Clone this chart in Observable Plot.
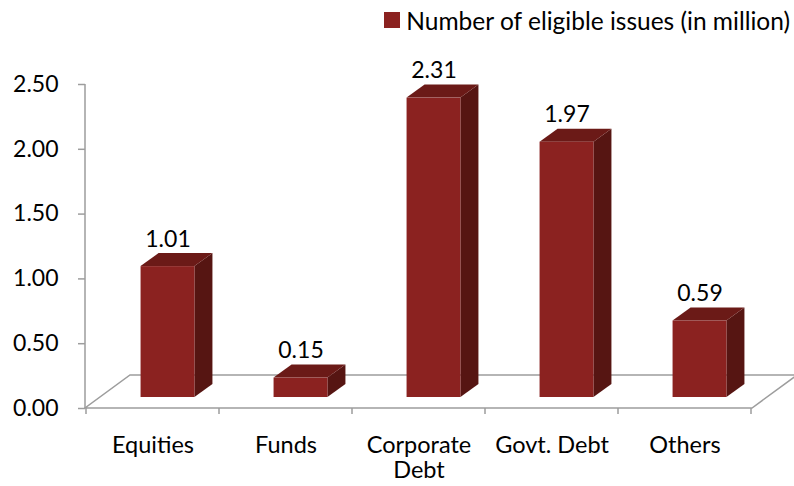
<!DOCTYPE html>
<html>
<head>
<meta charset="utf-8">
<script src="https://cdn.jsdelivr.net/npm/d3@7"></script>
<script src="https://cdn.jsdelivr.net/npm/@observablehq/plot@0.6"></script>
<style>
  html, body { margin: 0; padding: 0; background: #fff; }
  #wrap { width: 794px; height: 486px; overflow: hidden; font-family: Lato, "Open Sans", sans-serif; }
  #legend { height: 40px; display: flex; justify-content: flex-end; align-items: center; padding-right: 4px; box-sizing: border-box; font-size: 24.5px; color: #000; }
  #legend .sw { width: 16px; height: 16px; background: #8B2220; margin-right: 6px; }
</style>
</head>
<body>
<div id="wrap">
  <div id="legend"><span class="sw"></span><span id="legend-text"></span></div>
  <div id="chart"></div>
</div>
<script>
// ---- data ----
const categories = ["Equities", "Funds", "Corporate Debt", "Govt. Debt", "Others"];
const tickLabels = ["Equities", "Funds", "Corporate\nDebt", "Govt. Debt", "Others"];
const values = [1.01, 0.15, 2.31, 1.97, 0.59];
const yTicks = [0, 0.5, 1, 1.5, 2, 2.5];
const seriesName = "Number of eligible issues (in million)";

// ---- style ----
const frontColor = "#8B2220", topColor = "#6B1A17", sideColor = "#561512";
const axisColor = "#9d9d9d";
const floorDepth = [45, -33];
const barShift = [15, -11];
const barDepth = [18, -13];
const barFrac = 0.405;

document.getElementById("legend-text").textContent = seriesName;

const data = categories.map((c, i) => ({category: c, label: tickLabels[i], value: values[i]}));

const floorMark = Plot.ruleY([0], {
  render(index, scales, vals, dimensions) {
    const g = d3.create("svg:g").attr("fill", "none").attr("stroke", axisColor).attr("stroke-width", 1.5);
    const x0 = dimensions.marginLeft, x1 = dimensions.width - dimensions.marginRight;
    const y0 = scales.y(0);
    const [fx, fy] = floorDepth;
    g.append("path").attr("d", `M${x0},${y0}L${x1},${y0}L${x1 + fx},${y0 + fy}L${x0 + fx},${y0 + fy}Z`);
    g.append("line").attr("x1", x0).attr("x2", x0).attr("y1", y0).attr("y2", scales.y(yTicks[yTicks.length - 1]));
    const bw = scales.x.bandwidth();
    const edges = categories.map(c => scales.x(c)).concat([scales.x(categories[categories.length - 1]) + bw]);
    for (const e of edges) g.append("line").attr("x1", e).attr("x2", e).attr("y1", y0).attr("y2", y0 + 6);
    return g.node();
  }
});

const barsMark = Plot.barY(data, {
  x: "category", y: "value",
  render(index, scales, vals, dimensions) {
    const g = d3.create("svg:g");
    const bw = scales.x.bandwidth();
    const [sx, sy] = barShift, [ddx, ddy] = barDepth;
    for (const i of index) {
      const d = data[i];
      const cx = scales.x(d.category) + bw / 2 + sx;
      const w = bw * barFrac;
      const xa = cx - w / 2, xb = cx + w / 2;
      const yb = scales.y(0) + sy, yt = scales.y(d.value) + sy;
      g.append("path").attr("fill", sideColor)
        .attr("d", `M${xb},${yb}L${xb + ddx},${yb + ddy}L${xb + ddx},${yt + ddy}L${xb},${yt}Z`);
      g.append("path").attr("fill", topColor)
        .attr("d", `M${xa},${yt}L${xb},${yt}L${xb + ddx},${yt + ddy}L${xa + ddx},${yt + ddy}Z`);
      g.append("rect").attr("fill", frontColor)
        .attr("x", xa).attr("y", yt).attr("width", w).attr("height", yb - yt);
    }
    return g.node();
  }
});

const chart = Plot.plot({
  width: 794,
  height: 446,
  marginLeft: 85,
  marginRight: 42,
  marginTop: 44,
  marginBottom: 78,
  style: {fontFamily: "Lato, 'Open Sans', sans-serif", fontSize: "23px", color: "#000", background: "#fff"},
  x: {domain: categories, padding: 0},
  y: {domain: [0, 2.5], range: [368, 44]},
  marks: [
    floorMark,
    Plot.axisY({ticks: yTicks, tickFormat: d3.format(".2f"), tickSize: 7, tickPadding: 20, stroke: axisColor, strokeWidth: 1.5, label: null, fontSize: 23}),
    Plot.axisX({tickSize: 0, tickPadding: 26, tickFormat: (c) => tickLabels[categories.indexOf(c)], label: null, fontSize: 23.5, lineHeight: 1.08}),
    barsMark,
    Plot.text(data, {x: "category", y: "value", text: d => d.value.toFixed(2), dx: barShift[0], dy: barShift[1] + barDepth[1] - 7, lineAnchor: "bottom", fontSize: 23, fill: "#000"})
  ]
});
document.getElementById("chart").appendChild(chart);
</script>
</body>
</html>
